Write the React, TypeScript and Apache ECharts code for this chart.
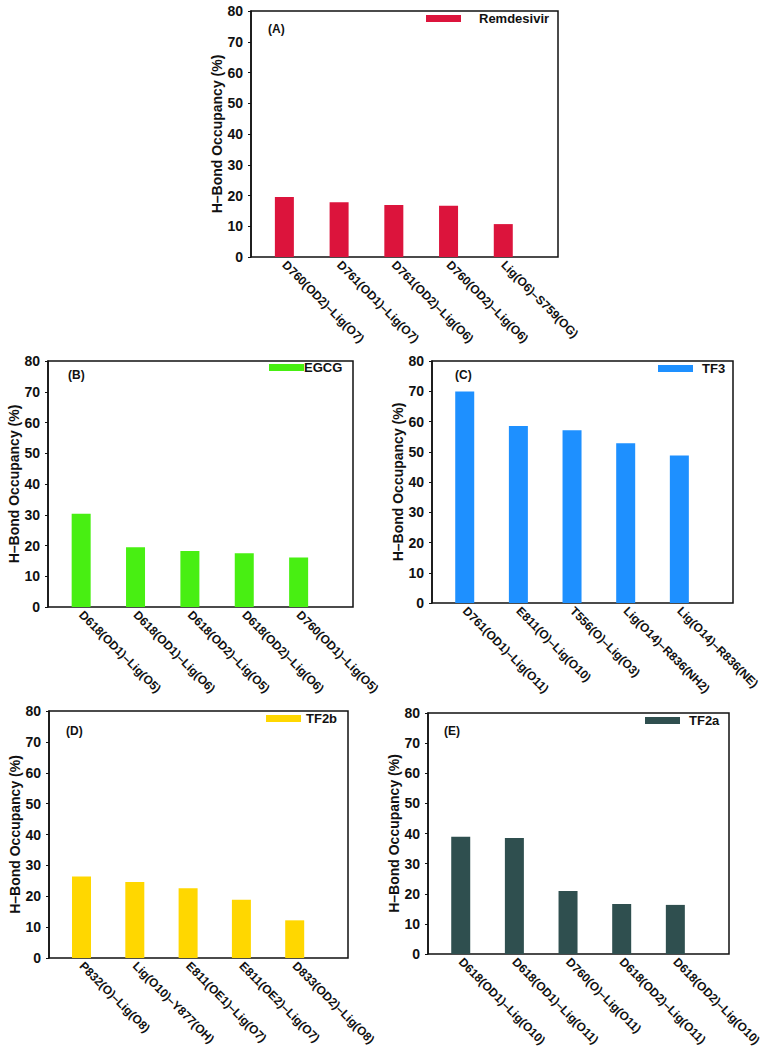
import React, { useEffect, useRef } from "react";
import * as echarts from "echarts";

const remCats = ["D760(OD2)–Lig(O7)", "D761(OD1)–Lig(O7)", "D761(OD2)–Lig(O6)", "D760(OD2)–Lig(O6)", "Lig(O6)–S759(OG)"];
const remVals = [19.5, 17.8, 16.9, 16.7, 10.7];
const egcgCats = ["D618(OD1)–Lig(O5)", "D618(OD1)–Lig(O6)", "D618(OD2)–Lig(O5)", "D618(OD2)–Lig(O6)", "D760(OD1)–Lig(O5)"];
const egcgVals = [30.3, 19.4, 18.2, 17.5, 16.1];
const tf3Cats = ["D761(OD1)–Lig(O11)", "E811(O)–Lig(O10)", "T556(O)–Lig(O3)", "Lig(O14)–R836(NH2)", "Lig(O14)–R836(NE)"];
const tf3Vals = [69.9, 58.5, 57.1, 52.8, 48.8];
const tf2bCats = ["P832(O)–Lig(O8)", "Lig(O10)–Y877(OH)", "E811(OE1)–Lig(O7)", "E811(OE2)–Lig(O7)", "D833(OD2)–Lig(O8)"];
const tf2bVals = [26.4, 24.6, 22.6, 18.9, 12.2];
const tf2aCats = ["D618(OD1)–Lig(O10)", "D618(OD1)–Lig(O11)", "D760(O)–Lig(O11)", "D618(OD2)–Lig(O11)", "D618(OD2)–Lig(O10)"];
const tf2aVals = [38.9, 38.5, 20.9, 16.6, 16.3];

const yMin = 0;
const yMax = 80;
const yStep = 10;
const yName = "H–Bond Occupancy (%)";

const panels = [
  { tag: "(A)", name: "Remdesivir", cats: remCats, vals: remVals, color: "#DC143C",
    grid: { left: 251, top: 11, width: 307, height: 246 }, tagPos: [268, 23], legendPos: [426, 12], textPad: 13 },
  { tag: "(B)", name: "EGCG", cats: egcgCats, vals: egcgVals, color: "#48EF12",
    grid: { left: 48, top: 361, width: 305, height: 246 }, tagPos: [68, 369], legendPos: [269, 361], textPad: -5 },
  { tag: "(C)", name: "TF3", cats: tf3Cats, vals: tf3Vals, color: "#1E90FF",
    grid: { left: 432, top: 361, width: 301, height: 242 }, tagPos: [455, 369], legendPos: [658, 362], textPad: 4 },
  { tag: "(D)", name: "TF2b", cats: tf2bCats, vals: tf2bVals, color: "#FFD700",
    grid: { left: 49, top: 711, width: 299, height: 247 }, tagPos: [66, 725], legendPos: [266, 712], textPad: 0 },
  { tag: "(E)", name: "TF2a", cats: tf2aCats, vals: tf2aVals, color: "#2F4F4F",
    grid: { left: 428, top: 713, width: 301, height: 241 }, tagPos: [444, 725], legendPos: [645, 714], textPad: 4 },
];

const FONT = "Liberation Sans, Arial, Helvetica, sans-serif";

export default function App() {
  const ref = useRef<HTMLDivElement>(null);
  useEffect(() => {
    if (!ref.current) return;
    const chart = echarts.init(ref.current, null, { renderer: "svg" });
    const option: any = {
      animation: false,
      backgroundColor: "#ffffff",
      textStyle: { fontFamily: FONT },
      title: panels.map((p) => ({
        text: p.tag,
        left: p.tagPos[0],
        top: p.tagPos[1],
        padding: 0,
        textStyle: { fontSize: 12, fontWeight: "bold", color: "#111", fontFamily: FONT },
      })),
      legend: panels.map((p) => ({
        data: [p.name],
        left: p.legendPos[0],
        top: p.legendPos[1],
        padding: 0,
        itemWidth: 35,
        itemHeight: 7,
        icon: "rect",
        selectedMode: false,
        textStyle: { fontSize: 13, fontWeight: "bold", color: "#111", fontFamily: FONT, padding: [0, 0, 0, p.textPad] },
      })),
      grid: panels.map((p) => ({
        ...p.grid,
        show: true,
        borderColor: "#111",
        borderWidth: 1.5,
        backgroundColor: "transparent",
        containLabel: false,
        outerBoundsMode: "none",
      })),
      xAxis: panels.map((p, i) => ({
        type: "value",
        gridIndex: i,
        min: 0.39,
        max: 6,
        axisLine: { show: false },
        axisTick: { show: false },
        splitLine: { show: false },
        axisLabel: {
          customValues: [1, 2, 3, 4, 5],
          rotate: -45,
          margin: 6,
          fontSize: 12,
          fontWeight: "bold",
          color: "#111",
          fontFamily: FONT,
          formatter: (v: number) => p.cats[Math.round(v) - 1] ?? "",
        },
      })),
      yAxis: panels.map((p, i) => ({
        type: "value",
        gridIndex: i,
        min: yMin,
        max: yMax,
        interval: yStep,
        name: yName,
        nameLocation: "middle",
        nameGap: 26,
        nameRotate: 90,
        nameTextStyle: { fontSize: 14, fontWeight: "bold", color: "#111", fontFamily: FONT },
        axisLine: { show: true, lineStyle: { color: "#111", width: 1.5 } },
        axisTick: { show: true, length: 3, lineStyle: { color: "#111" } },
        splitLine: { show: false },
        axisLabel: { fontSize: 14, fontWeight: "bold", color: "#111", margin: 8, fontFamily: FONT },
      })),
      series: panels.map((p, i) => ({
        type: "bar",
        name: p.name,
        xAxisIndex: i,
        yAxisIndex: i,
        barWidth: 19,
        itemStyle: { color: p.color },
        data: p.vals.map((v, k) => [k + 1, v]),
      })),
    };
    chart.setOption(option);
    return () => chart.dispose();
  }, []);
  return (
    <div
      ref={ref}
      style={{ position: "fixed", left: 0, top: 0, width: 769, height: 1059, background: "#fff" }}
    />
  );
}
